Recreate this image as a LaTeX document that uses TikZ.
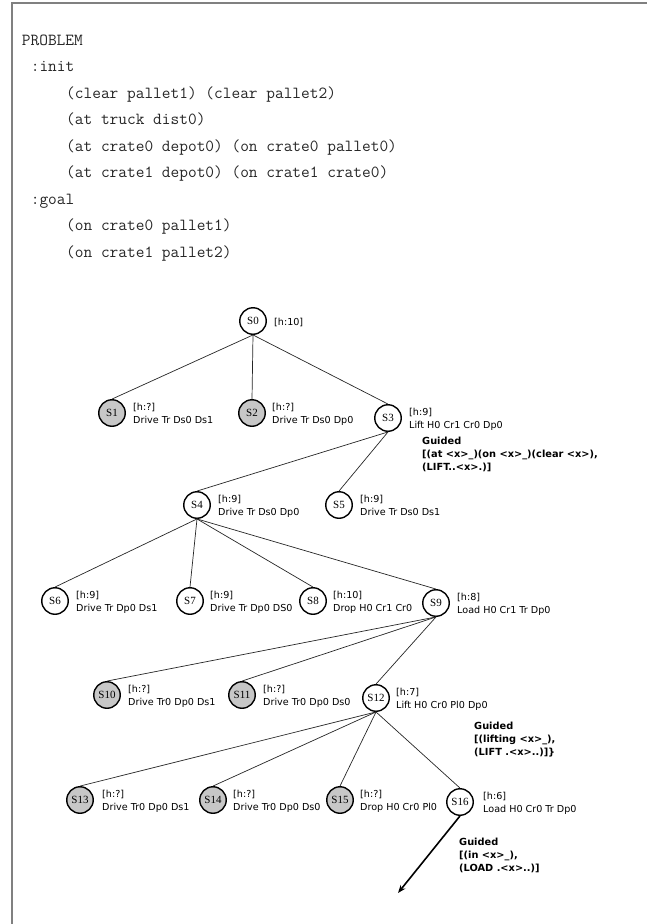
\documentclass[tikz,border=0pt]{standalone}
\usepackage{fontspec}
\setmainfont{Liberation Serif}
\newfontfamily\labf{DejaVu Sans}
\usetikzlibrary{calc,arrows.meta}
\begin{document}
\begin{tikzpicture}[x=1pt,y=-1pt,
  st/.style={circle,draw=black,line width=1.4pt,minimum size=26.5pt,inner sep=0pt,font=\fontsize{11}{11}\selectfont},
  dead/.style={st,fill=black!22},
  lab/.style={anchor=north west,align=left,inner sep=0pt,font=\labf\fontsize{9.6}{13}\selectfont},
  lab1/.style={anchor=west,inner sep=0pt,font=\labf\fontsize{9.6}{13}\selectfont},
  guid/.style={anchor=north west,align=left,inner sep=0pt,font=\labf\bfseries\fontsize{9.8}{13}\selectfont},
  edge/.style={line width=0.7pt,draw=black!85},
  code/.style={anchor=base west,inner sep=0pt,text=black!85,font=\ttfamily\fontsize{16.9}{16.9}\selectfont},
  frame/.style={line width=2pt,draw=black!50},
  bigarrow/.style={line width=1.6pt,-{Stealth[length=8pt,width=6pt]}}]
\useasboundingbox (0,0) rectangle (647,924);
% frame
\coordinate (fa) at (11.5,924);
\coordinate (fb) at (11.5,3);
\coordinate (fc) at (647,3);
\draw[frame] (fa) -- (fb) -- (fc);
% problem text
\node[code] (p1) at (21.7,45) {PROBLEM};
\node[code] (p2) at (30.6,71.5) {:init};
\node[code] (p3) at (66,98) {(clear pallet1) (clear pallet2)};
\node[code] (p4) at (66,124.5) {(at truck dist0)};
\node[code] (p5) at (66,151) {(at crate0 depot0) (on crate0 pallet0)};
\node[code] (p6) at (66,177.5) {(at crate1 depot0) (on crate1 crate0)};
\node[code] (p7) at (30.6,204) {:goal};
\node[code] (p8) at (66,230.5) {(on crate0 pallet1)};
\node[code] (p9) at (66,257) {(on crate1 pallet2)};
% states
\node[st]   (S0)  at (253,321) {S0};
\node[dead] (S1)  at (112,413) {S1};
\node[dead] (S2)  at (252,413) {S2};
\node[st]   (S3)  at (388,418) {S3};
\node[st]   (S4)  at (197,505) {S4};
\node[st]   (S5)  at (339,505) {S5};
\node[st]   (S6)  at (55,601) {S6};
\node[st]   (S7)  at (190,601) {S7};
\node[st]   (S8)  at (313,601) {S8};
\node[st]   (S9)  at (436,603) {S9};
\node[dead] (S10) at (107,695) {S10};
\node[dead] (S11) at (242,695) {S11};
\node[st]   (S12) at (376,698) {S12};
\node[dead] (S13) at (80,800) {S13};
\node[dead] (S14) at (213,800) {S14};
\node[dead] (S15) at (340,800) {S15};
\node[st]   (S16) at (460,802) {S16};
% labels
\node[lab1] (L0) at ($(S0)+(21,1)$) {[h:10]};
\node[lab] (L1) at ($(S1)+(21,-9.6)$) {[h:?]\\Drive Tr Ds0 Ds1};
\node[lab] (L2) at ($(S2)+(20,-9.6)$) {[h:?]\\Drive Tr Ds0 Dp0};
\node[lab] (L3) at ($(S3)+(21,-9.6)$) {[h:9]\\Lift H0 Cr1 Cr0 Dp0};
\node[lab] (L4) at ($(S4)+(21,-9.6)$) {[h:9]\\Drive Tr Ds0 Dp0};
\node[lab] (L5) at ($(S5)+(21,-9.6)$) {[h:9]\\Drive Tr Ds0 Ds1};
\node[lab] (L6) at ($(S6)+(21,-9.6)$) {[h:9]\\Drive Tr Dp0 Ds1};
\node[lab] (L7) at ($(S7)+(20,-9.6)$) {[h:9]\\Drive Tr Dp0 DS0};
\node[lab] (L8) at ($(S8)+(20,-9.6)$) {[h:10]\\Drop H0 Cr1 Cr0};
\node[lab] (L9) at ($(S9)+(21,-9.6)$) {[h:8]\\Load H0 Cr1 Tr Dp0};
\node[lab] (L10) at ($(S10)+(21,-9.6)$) {[h:?]\\Drive Tr0 Dp0 Ds1};
\node[lab] (L11) at ($(S11)+(21,-9.6)$) {[h:?]\\Drive Tr0 Dp0 Ds0};
\node[lab] (L12) at ($(S12)+(20,-9.6)$) {[h:7]\\Lift H0 Cr0 Pl0 Dp0};
\node[lab] (L13) at ($(S13)+(22,-9.6)$) {[h:?]\\Drive Tr0 Dp0 Ds1};
\node[lab] (L14) at ($(S14)+(20,-9.6)$) {[h:?]\\Drive Tr0 Dp0 Ds0};
\node[lab] (L15) at ($(S15)+(20,-9.6)$) {[h:?]\\Drop H0 Cr0 Pl0};
\node[lab] (L16) at ($(S16)+(23,-9.6)$) {[h:6]\\Load H0 Cr0 Tr Dp0};
% guided notes
\node[guid] (G1) at (422,437.3) {Guided\\{}[(at <x>\_)(on <x>\_)(clear <x>),\\(LIFT..<x>.)]};
\node[guid] (G2) at (474,722.3) {Guided\\{}[(lifting <x>\_),\\(LIFT .<x>..)]\}};
\node[guid] (G3) at (459,838.3) {Guided\\{}[(in <x>\_),\\(LOAD .<x>..)]};
% edges
\draw[edge] (S0.south) -- (S1.north);
\draw[edge] (S0.south) -- (S2.north);
\draw[edge] (S0.south) -- (S3.north);
\draw[edge] (S3.south) -- (S4.north);
\draw[edge] (S3.south) -- (S5.north);
\draw[edge] (S4.south) -- (S6.north);
\draw[edge] (S4.south) -- (S7.north);
\draw[edge] (S4.south) -- (S8.north);
\draw[edge] (S4.south) -- (S9.north);
\draw[edge] (S9.south) -- (S10.north);
\draw[edge] (S9.south) -- (S11.north);
\draw[edge] (S9.south) -- (S12.north);
\draw[edge] (S12.south) -- (S13.north);
\draw[edge] (S12.south) -- (S14.north);
\draw[edge] (S12.south) -- (S15.north);
\draw[edge] (S12.south) -- (S16.north);
\coordinate (tip) at (398,893);
\draw[bigarrow] (S16.south) -- (tip);
\end{tikzpicture}
\end{document}
